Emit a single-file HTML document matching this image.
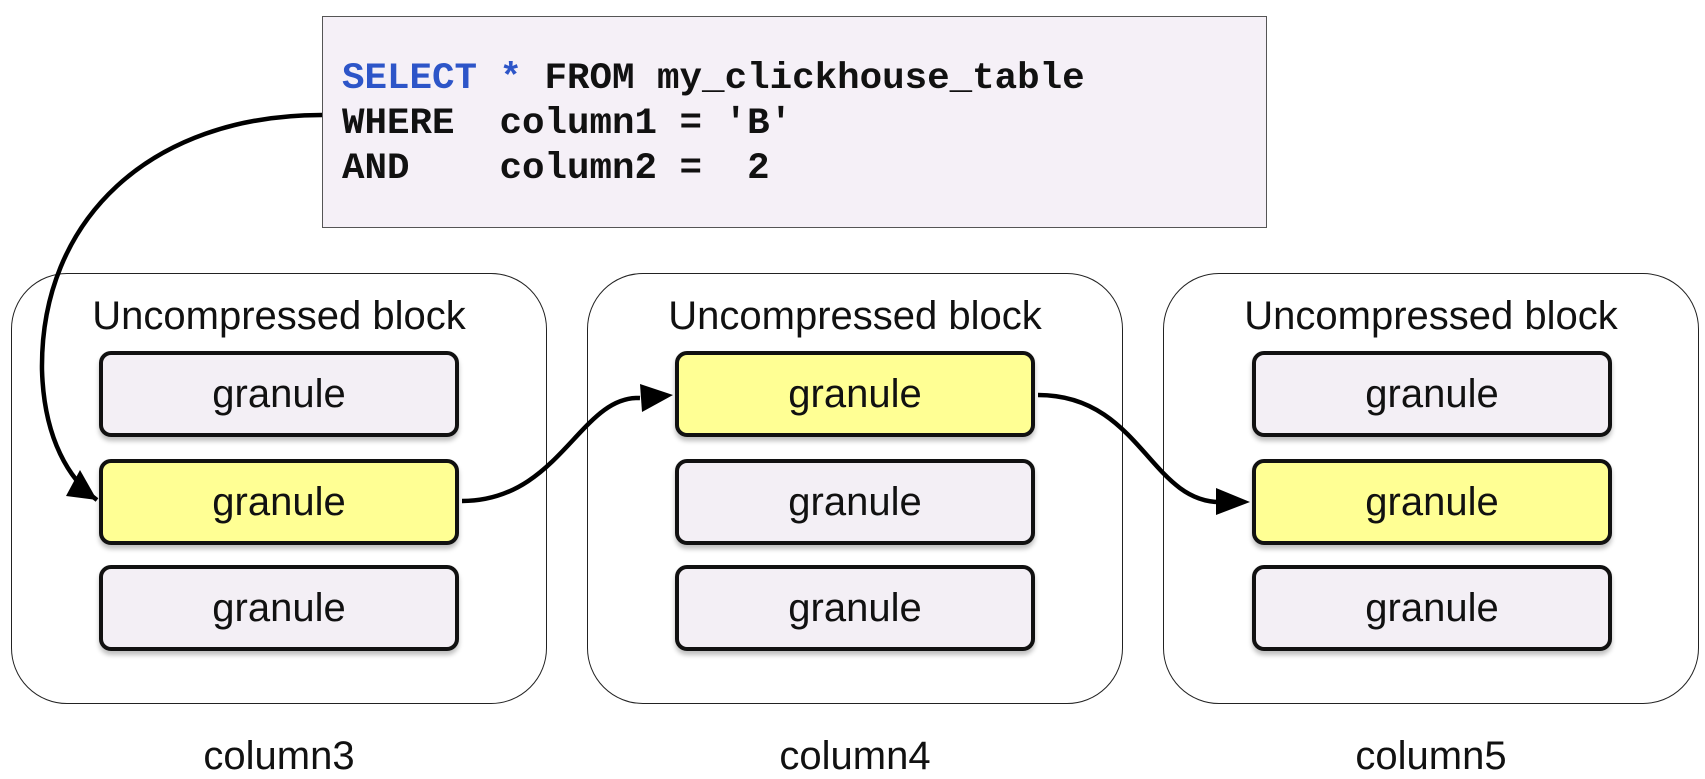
<!DOCTYPE html>
<html><head><meta charset="utf-8"><style>
body{margin:0;width:1705px;height:774px;background:#fff;overflow:hidden;position:relative;font-family:"Liberation Sans",sans-serif}
.q{position:absolute;left:322px;top:16px;width:945px;height:212px;background:#f5f0f7;border:1.5px solid #555;box-sizing:border-box}
.q pre{margin:0;position:absolute;left:19px;top:40px;font-family:"Liberation Mono",monospace;font-size:37.5px;line-height:45px;color:#111;font-weight:bold}
.blk{position:absolute;top:273px;width:536px;height:431px;border:1.5px solid #222;border-radius:56px;box-sizing:border-box}
.t{position:absolute;top:294px;width:536px;text-align:center;font-size:40px;color:#111}
.g{position:absolute;width:360px;height:86px;border:4px solid #111;border-radius:12px;box-sizing:border-box;background:#f3eff5;text-align:center;line-height:78px;font-size:40px;color:#111;box-shadow:0 4px 5px rgba(0,0,0,.25)}
.y{background:#ffff94}
.c{position:absolute;top:734px;width:536px;text-align:center;font-size:40px;color:#111}
</style></head><body>
<div class="q"><pre><span style="color:#2d55c8">SELECT *</span> FROM my_clickhouse_table
WHERE  column1 = 'B'
AND    column2 =  2</pre></div>

<div class="blk" style="left:11px"></div>
<div class="blk" style="left:587px"></div>
<div class="blk" style="left:1163px"></div>
<div class="t" style="left:11px">Uncompressed block</div>
<div class="t" style="left:587px">Uncompressed block</div>
<div class="t" style="left:1163px">Uncompressed block</div>

<div class="g" style="left:99px;top:351px">granule</div>
<div class="g y" style="left:99px;top:459px">granule</div>
<div class="g" style="left:99px;top:565px">granule</div>
<div class="g y" style="left:675px;top:351px">granule</div>
<div class="g" style="left:675px;top:459px">granule</div>
<div class="g" style="left:675px;top:565px">granule</div>
<div class="g" style="left:1252px;top:351px">granule</div>
<div class="g y" style="left:1252px;top:459px">granule</div>
<div class="g" style="left:1252px;top:565px">granule</div>

<div class="c" style="left:11px">column3</div>
<div class="c" style="left:587px">column4</div>
<div class="c" style="left:1163px">column5</div>

<svg width="1705" height="774" style="position:absolute;left:0;top:0">
<path d="M322,115 C150,115 40,220 42,370 C44,440 70,480 97,500" fill="none" stroke="#000" stroke-width="4.5"/>
<path d="M97,500 L66,496 L80,470 Z" fill="#000"/>
<path d="M462,501 C560,501 580,395 640,398" fill="none" stroke="#000" stroke-width="4.5"/>
<path d="M673,395 L640,384 L642,412 Z" fill="#000"/>
<path d="M1038,395 C1140,395 1150,502 1220,502" fill="none" stroke="#000" stroke-width="4.5"/>
<path d="M1250,502 L1216,488 L1216,515 Z" fill="#000"/>
</svg>
</body></html>
